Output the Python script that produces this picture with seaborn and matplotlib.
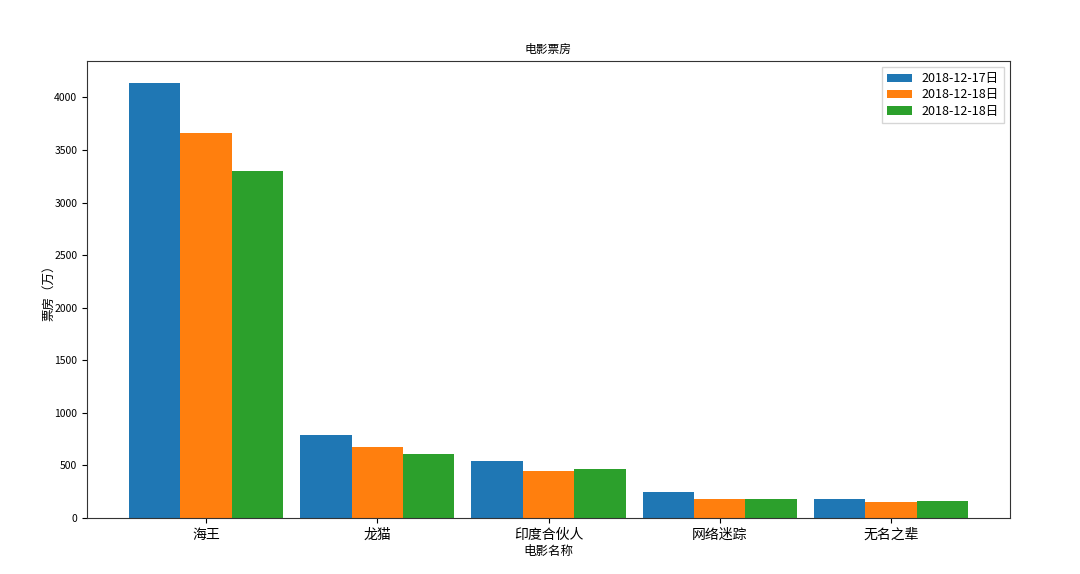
import matplotlib
matplotlib.use("Agg")
import matplotlib.pyplot as plt
import seaborn as sns
import pandas as pd

movies = ["海王", "龙猫", "印度合伙人", "网络迷踪", "无名之辈"]
day1 = [4140, 792, 543, 244, 180]
day2 = [3662, 674, 443, 180, 152]
day3 = [3302, 607, 469, 180, 161]
series_keys = ["s1", "s2", "s3"]
series_labels = ["2018-12-17日", "2018-12-18日", "2018-12-18日"]
colors = ["#1f77b4", "#ff7f0e", "#2ca02c"]

rows = []
for key, vals in zip(series_keys, [day1, day2, day3]):
    for m, v in zip(movies, vals):
        rows.append({"电影名称": m, "票房": v, "日期": key})
df = pd.DataFrame(rows)

plt.rcParams['font.family'] = ['Noto Sans CJK SC', 'DejaVu Sans']
plt.rcParams['axes.unicode_minus'] = False

fig = plt.figure(figsize=(10.8, 5.74), dpi=100)
ax = fig.add_axes([87/1080, 1-518/574, (1010-87)/1080, (518-61)/574])
sns.barplot(data=df, x="电影名称", y="票房", hue="日期", order=movies,
            hue_order=series_keys, palette=colors, width=0.9,
            saturation=1, ax=ax, errorbar=None)
ax.set_xlim(-0.695, 4.695)
ax.set_ylim(0, 4347)
ax.set_title("电影票房", fontsize=8.5)
ax.set_xlabel("电影名称", fontsize=9, labelpad=2)
ax.set_ylabel("票房（万）", fontsize=9, labelpad=-1)
ax.tick_params(axis='x', labelsize=10)
ax.tick_params(axis='y', labelsize=7.5)
for s in ax.spines.values():
    s.set_color("#333333")
handles, _ = ax.get_legend_handles_labels()
ax.legend(handles, series_labels, loc="upper right", fontsize=9,
          labelspacing=0.25, fancybox=False, title=None)
fig.savefig("out.png", dpi=100)
